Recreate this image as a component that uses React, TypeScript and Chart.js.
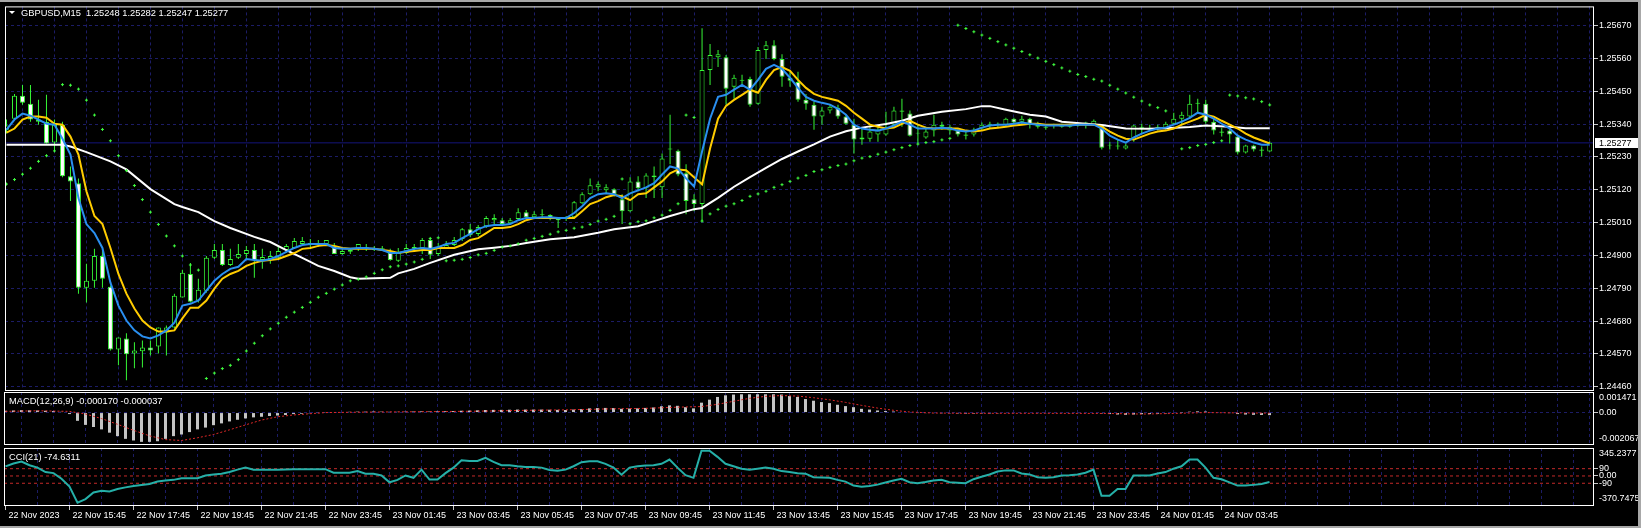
import React, { useEffect, useRef } from 'react';
import { Chart, registerables } from 'chart.js';

Chart.register(...registerables);

// ---------------- data ----------------
const symbolTitle = 'GBPUSD,M15';
const macdTitle = 'MACD(12,26,9)';
const cciTitle = 'CCI(21)';

const open = [1.25321, 1.25358, 1.25435, 1.25408, 1.25355, 1.25348, 1.25278, 1.25338, 1.25165, 1.25142,
  1.24792, 1.24815, 1.24898, 1.24795, 1.24585, 1.24622, 1.24572, 1.24579, 1.24592, 1.24595,
  1.24642, 1.24659, 1.24759, 1.24838, 1.24749, 1.24782, 1.24892, 1.24918, 1.24868, 1.24892,
  1.24905, 1.24918, 1.24885, 1.24888, 1.24892, 1.24918, 1.24925, 1.24938, 1.24942, 1.24938,
  1.24938, 1.24932, 1.24905, 1.24912, 1.24922, 1.24928, 1.24922, 1.24922, 1.24908, 1.24882,
  1.24908, 1.24922, 1.24925, 1.24952, 1.24905, 1.24925, 1.24935, 1.24955, 1.24988, 1.24972,
  1.24998, 1.25018, 1.25018, 1.25008, 1.25022, 1.25045, 1.25028, 1.25035, 1.25035, 1.25025,
  1.25025, 1.25028, 1.25075, 1.25105, 1.25128, 1.25118, 1.25122, 1.25088, 1.25048, 1.25148,
  1.25125, 1.25162, 1.25128, 1.25255, 1.25251, 1.25175, 1.25088, 1.25072, 1.25521, 1.25564,
  1.25564, 1.25465, 1.25488, 1.25491, 1.25408, 1.25588, 1.25604, 1.25558, 1.25495, 1.25481,
  1.25421, 1.25405, 1.25365, 1.25385, 1.25395, 1.25365, 1.25338, 1.25295, 1.25291, 1.25305,
  1.25305, 1.25338, 1.25385, 1.25375, 1.25308, 1.25295, 1.25318, 1.25338, 1.25318, 1.25318,
  1.25305, 1.25305, 1.25325, 1.25338, 1.25338, 1.25338, 1.25358, 1.25348, 1.25358, 1.25338,
  1.25331, 1.25335, 1.25338, 1.25331, 1.25335, 1.25341, 1.25338, 1.25335, 1.25268, 1.25268,
  1.25258, 1.25288, 1.25331, 1.25328, 1.25328, 1.25328, 1.25341, 1.25358, 1.25365, 1.25408,
  1.25408, 1.25348, 1.25315, 1.25318, 1.25298, 1.25245, 1.25268, 1.25255, 1.25248];

const high = [1.25355, 1.25441, 1.25471, 1.25471, 1.25421, 1.25438, 1.25355, 1.25348, 1.25198, 1.25158,
  1.24872, 1.24922, 1.24922, 1.24799, 1.24625, 1.24639, 1.24609, 1.24615, 1.24615, 1.24659,
  1.24665, 1.24772, 1.24852, 1.24875, 1.24822, 1.24898, 1.24938, 1.24938, 1.24922, 1.24938,
  1.24932, 1.24938, 1.24922, 1.24915, 1.24932, 1.24938, 1.24958, 1.24962, 1.24955, 1.24952,
  1.24952, 1.24942, 1.24922, 1.24925, 1.24938, 1.24938, 1.24932, 1.24932, 1.24922, 1.24925,
  1.24938, 1.24938, 1.24958, 1.24958, 1.24942, 1.24948, 1.24962, 1.24992, 1.25005, 1.25002,
  1.25032, 1.25038, 1.25025, 1.25025, 1.25058, 1.25052, 1.25048, 1.25055, 1.25038, 1.25028,
  1.25032, 1.25082, 1.25112, 1.25158, 1.25148, 1.25138, 1.25125, 1.25105, 1.25162, 1.25165,
  1.25175, 1.25198, 1.25241, 1.25371, 1.25255, 1.25205, 1.25105, 1.25661, 1.25608, 1.25588,
  1.25571, 1.25505, 1.25505, 1.25498, 1.25598, 1.25618, 1.25621, 1.25574, 1.25515, 1.25515,
  1.25441, 1.25415, 1.25398, 1.25405, 1.25405, 1.25371, 1.25358, 1.25325, 1.25331, 1.25338,
  1.25381, 1.25398, 1.25425, 1.25385, 1.25338, 1.25331, 1.25371, 1.25348, 1.25338, 1.25325,
  1.25315, 1.25328, 1.25345, 1.25348, 1.25345, 1.25361, 1.25361, 1.25368, 1.25361, 1.25348,
  1.25338, 1.25341, 1.25341, 1.25341, 1.25345, 1.25348, 1.25355, 1.25338, 1.25281, 1.25288,
  1.25275, 1.25338, 1.25341, 1.25338, 1.25338, 1.25348, 1.25378, 1.25381, 1.25438, 1.25425,
  1.25421, 1.25358, 1.25328, 1.25325, 1.25305, 1.25271, 1.25271, 1.25265, 1.25282];

const low = [1.25308, 1.25355, 1.25405, 1.25348, 1.25338, 1.25275, 1.25248, 1.25162, 1.25082, 1.24772,
  1.24742, 1.24792, 1.24792, 1.24582, 1.24532, 1.24482, 1.24522, 1.24525, 1.24565, 1.24572,
  1.24565, 1.24655, 1.24759, 1.24742, 1.24742, 1.24775, 1.24888, 1.24865, 1.24865, 1.24888,
  1.24888, 1.24825, 1.24855, 1.24872, 1.24888, 1.24908, 1.24922, 1.24938, 1.24928, 1.24928,
  1.24935, 1.24905, 1.24902, 1.24905, 1.24915, 1.24915, 1.24915, 1.24915, 1.24882, 1.24878,
  1.24905, 1.24915, 1.24905, 1.24888, 1.24898, 1.24922, 1.24932, 1.24948, 1.24962, 1.24965,
  1.24992, 1.25005, 1.24998, 1.25005, 1.25015, 1.25025, 1.25025, 1.25025, 1.25018, 1.24992,
  1.25015, 1.25025, 1.25072, 1.25102, 1.25115, 1.25108, 1.25098, 1.25005, 1.25045, 1.25115,
  1.25092, 1.25092, 1.25092, 1.25205, 1.25165, 1.25038, 1.25048, 1.25015, 1.25471, 1.25531,
  1.25405, 1.25425, 1.25471, 1.25398, 1.25405, 1.25558, 1.25554, 1.25465, 1.25465, 1.25415,
  1.25388, 1.25321, 1.25338, 1.25375, 1.25358, 1.25338, 1.25241, 1.25271, 1.25281, 1.25281,
  1.25301, 1.25331, 1.25331, 1.25298, 1.25275, 1.25291, 1.25298, 1.25321, 1.25305, 1.25298,
  1.25288, 1.25298, 1.25318, 1.25325, 1.25328, 1.25331, 1.25338, 1.25338, 1.25325, 1.25325,
  1.25321, 1.25325, 1.25328, 1.25328, 1.25331, 1.25325, 1.25335, 1.25255, 1.25255, 1.25255,
  1.25255, 1.25281, 1.25308, 1.25318, 1.25318, 1.25321, 1.25338, 1.25338, 1.25358, 1.25375,
  1.25341, 1.25305, 1.25298, 1.25275, 1.25238, 1.25241, 1.25248, 1.25231, 1.25247];

const close = [1.25335, 1.25435, 1.25411, 1.25355, 1.25348, 1.25275, 1.25338, 1.25165, 1.25148, 1.24792,
  1.24815, 1.24898, 1.24822, 1.24585, 1.24625, 1.24569, 1.24582, 1.24592, 1.24582, 1.24659,
  1.24659, 1.24765, 1.24842, 1.24745, 1.24785, 1.24892, 1.24918, 1.24868, 1.24888, 1.24905,
  1.24918, 1.24885, 1.24895, 1.24898, 1.24915, 1.24932, 1.24948, 1.24948, 1.24938, 1.24942,
  1.24952, 1.24905, 1.24915, 1.24918, 1.24938, 1.24922, 1.24918, 1.24925, 1.24885, 1.24908,
  1.24925, 1.24928, 1.24952, 1.24902, 1.24928, 1.24935, 1.24952, 1.24988, 1.24968, 1.24995,
  1.25025, 1.25025, 1.25005, 1.25018, 1.25045, 1.25028, 1.25038, 1.25038, 1.25025, 1.25018,
  1.25022, 1.25078, 1.25105, 1.25135, 1.25138, 1.25128, 1.25105, 1.25048, 1.25148, 1.25125,
  1.25168, 1.25168, 1.25225, 1.25258, 1.25171, 1.25082, 1.25072, 1.25521, 1.25571, 1.25574,
  1.25458, 1.25495, 1.25485, 1.25405, 1.25588, 1.25604, 1.25558, 1.25498, 1.25485, 1.25421,
  1.25408, 1.25365, 1.25385, 1.25398, 1.25365, 1.25341, 1.25288, 1.25288, 1.25315, 1.25321,
  1.25328, 1.25385, 1.25381, 1.25301, 1.25311, 1.25315, 1.25338, 1.25331, 1.25331, 1.25305,
  1.25301, 1.25321, 1.25338, 1.25341, 1.25341, 1.25358, 1.25345, 1.25358, 1.25338, 1.25331,
  1.25328, 1.25338, 1.25331, 1.25335, 1.25338, 1.25345, 1.25351, 1.25261, 1.25271, 1.25265,
  1.25268, 1.25335, 1.25328, 1.25325, 1.25331, 1.25341, 1.25358, 1.25371, 1.25408, 1.25411,
  1.25348, 1.25318, 1.25311, 1.25305, 1.25245, 1.25268, 1.25255, 1.25251, 1.25277];

const maFast = [1.25321, 1.25355, 1.25375, 1.25368, 1.25355, 1.25341, 1.25338, 1.25291, 1.25238, 1.25092,
  1.25005, 1.24975, 1.24925, 1.24809, 1.24732, 1.24682, 1.24649, 1.24629, 1.24622, 1.24632,
  1.24649, 1.24675, 1.24732, 1.24738, 1.24749, 1.24782, 1.24815, 1.24838, 1.24855, 1.24862,
  1.24888, 1.24885, 1.24882, 1.24888, 1.24898, 1.24912, 1.24925, 1.24935, 1.24938, 1.24938,
  1.24938, 1.24925, 1.24922, 1.24922, 1.24925, 1.24925, 1.24922, 1.24918, 1.24908, 1.24908,
  1.24915, 1.24922, 1.24925, 1.24922, 1.24928, 1.24938, 1.24942, 1.24958, 1.24972, 1.24988,
  1.24998, 1.25002, 1.25002, 1.25005, 1.25018, 1.25025, 1.25025, 1.25028, 1.25028, 1.25025,
  1.25025, 1.25042, 1.25065, 1.25092, 1.25105, 1.25108, 1.25105, 1.25092, 1.25108, 1.25118,
  1.25128, 1.25142, 1.25171, 1.25198, 1.25191, 1.25158, 1.25131, 1.25248, 1.25358, 1.25431,
  1.25438, 1.25455, 1.25471, 1.25455, 1.25488, 1.25525, 1.25538, 1.25525, 1.25495, 1.25461,
  1.25431, 1.25418, 1.25411, 1.25405, 1.25391, 1.25371, 1.25338, 1.25325, 1.25321, 1.25318,
  1.25325, 1.25335, 1.25348, 1.25338, 1.25325, 1.25325, 1.25325, 1.25328, 1.25325, 1.25318,
  1.25315, 1.25318, 1.25328, 1.25335, 1.25338, 1.25338, 1.25341, 1.25345, 1.25341, 1.25338,
  1.25335, 1.25335, 1.25335, 1.25335, 1.25338, 1.25338, 1.25338, 1.25325, 1.25301, 1.25288,
  1.25278, 1.25295, 1.25308, 1.25318, 1.25325, 1.25328, 1.25338, 1.25348, 1.25361, 1.25378,
  1.25371, 1.25358, 1.25341, 1.25325, 1.25301, 1.25288, 1.25278, 1.25271, 1.25271];

const maMid = [1.25311, 1.25325, 1.25355, 1.25365, 1.25365, 1.25361, 1.25341, 1.25338, 1.25298, 1.25238,
  1.25115, 1.25032, 1.25005, 1.24925, 1.24838, 1.24772, 1.24722, 1.24682, 1.24659, 1.24645,
  1.24645, 1.24649, 1.24689, 1.24725, 1.24725, 1.24749, 1.24789, 1.24822, 1.24838, 1.24848,
  1.24865, 1.24875, 1.24882, 1.24885, 1.24888, 1.24898, 1.24908, 1.24922, 1.24925, 1.24932,
  1.24935, 1.24932, 1.24925, 1.24922, 1.24922, 1.24922, 1.24922, 1.24918, 1.24915, 1.24908,
  1.24912, 1.24915, 1.24918, 1.24918, 1.24925, 1.24925, 1.24925, 1.24935, 1.24952, 1.24958,
  1.24975, 1.24992, 1.24992, 1.24995, 1.25005, 1.25018, 1.25025, 1.25025, 1.25025, 1.25025,
  1.25025, 1.25025, 1.25048, 1.25072, 1.25082, 1.25095, 1.25102, 1.25098, 1.25085, 1.25105,
  1.25108, 1.25128, 1.25148, 1.25175, 1.25188, 1.25185, 1.25162, 1.25138, 1.25258, 1.25358,
  1.25401, 1.25421, 1.25438, 1.25455, 1.25445, 1.25488, 1.25521, 1.25531, 1.25518, 1.25488,
  1.25461, 1.25441, 1.25431, 1.25425, 1.25418, 1.25401, 1.25378, 1.25358, 1.25338, 1.25331,
  1.25325, 1.25328, 1.25341, 1.25351, 1.25338, 1.25328, 1.25325, 1.25325, 1.25325, 1.25325,
  1.25318, 1.25315, 1.25318, 1.25325, 1.25328, 1.25331, 1.25335, 1.25338, 1.25341, 1.25341,
  1.25338, 1.25338, 1.25338, 1.25338, 1.25338, 1.25338, 1.25338, 1.25331, 1.25315, 1.25301,
  1.25291, 1.25288, 1.25298, 1.25308, 1.25315, 1.25318, 1.25325, 1.25338, 1.25348, 1.25358,
  1.25371, 1.25365, 1.25351, 1.25338, 1.25325, 1.25308, 1.25295, 1.25285, 1.25275];

const maSlowBars = [0, 7, 8, 10, 13, 15, 18, 21, 22, 24, 26, 28, 31, 33, 35, 37, 39, 41, 43, 44,
  48, 49, 51, 53, 56, 59, 61, 63, 65, 68, 71, 74, 76, 79, 81, 83, 86, 87, 89, 91,
  93, 95, 97, 99, 101, 103, 105, 107, 110, 112, 114, 117, 120, 122, 123, 125, 128, 130, 132, 135,
  137, 140, 143, 145, 148, 150, 153, 155, 158];
const maSlow = [1.25271, 1.25271, 1.25265, 1.25246, 1.25215, 1.25188, 1.25122, 1.25072, 1.25062, 1.25045,
  1.25015, 1.24992, 1.24962, 1.24945, 1.24918, 1.24892, 1.24865, 1.24848, 1.24827, 1.24822,
  1.24825, 1.24840, 1.24855, 1.24875, 1.24902, 1.24921, 1.24926, 1.24932, 1.24942, 1.24954,
  1.24961, 1.24976, 1.24988, 1.24998, 1.25015, 1.25032, 1.25055, 1.25059, 1.25093, 1.25130,
  1.25162, 1.25193, 1.25223, 1.25248, 1.25272, 1.25298, 1.25316, 1.25328, 1.25340, 1.25351,
  1.25368, 1.25381, 1.25390, 1.25400, 1.25400, 1.25388, 1.25371, 1.25365, 1.25348, 1.25341,
  1.25337, 1.25325, 1.25324, 1.25326, 1.25330, 1.25335, 1.25331, 1.25326, 1.25326];

const sar = [1.25139, 1.25154, 1.25172, 1.25192, 1.25215, 1.25234, 1.25250, 1.25472, 1.25470, 1.25457,
  1.25420, 1.25370, 1.25322, 1.25284, 1.25234, 1.25184, 1.25134, 1.25087, 1.25045, 1.25004,
  1.24965, 1.24932, 1.24898, 1.24868, 1.24851, 1.24488, 1.24506, 1.24521, 1.24532, 1.24551,
  1.24580, 1.24606, 1.24631, 1.24654, 1.24673, 1.24693, 1.24710, 1.24726, 1.24743, 1.24760,
  1.24773, 1.24787, 1.24801, 1.24815, 1.24820, 1.24828, 1.24840, 1.24852, 1.24862, 1.24865,
  1.24871, 1.24878, 1.24887, 1.24957, 1.24959, 1.24882, 1.24884, 1.24887, 1.24893, 1.24902,
  1.24907, 1.24917, 1.24928, 1.24932, 1.24939, 1.24951, 1.24957, 1.24964, 1.24971, 1.24979,
  1.24984, 1.24991, 1.24995, 1.25004, 1.25015, 1.25021, 1.25031, 1.25156, 1.25006, 1.25013,
  1.25016, 1.25026, 1.25035, 1.25051, 1.25073, 1.25370, 1.25362, 1.25015, 1.25039, 1.25054,
  1.25065, 1.25073, 1.25084, 1.25098, 1.25106, 1.25115, 1.25128, 1.25137, 1.25148, 1.25159,
  1.25168, 1.25181, 1.25187, 1.25195, 1.25201, 1.25206, 1.25217, 1.25226, 1.25231, 1.25239,
  1.25246, 1.25254, 1.25261, 1.25268, 1.25273, 1.25278, 1.25281, 1.25287, 1.25292, 1.25671,
  1.25660, 1.25649, 1.25638, 1.25627, 1.25616, 1.25605, 1.25594, 1.25583, 1.25572, 1.25561,
  1.25550, 1.25539, 1.25528, 1.25517, 1.25506, 1.25499, 1.25490, 1.25484, 1.25470, 1.25457,
  1.25444, 1.25430, 1.25417, 1.25404, 1.25395, 1.25384, null, 1.25257, 1.25261, 1.25268,
  1.25272, 1.25278, 1.25284, 1.25437, 1.25434, 1.25428, 1.25424, 1.25415, 1.25404];

const macdHist = [0.00012, 0.00014, 0.00016, 0.00015, 0.00014, 0.00012, 0.0001, 0.00005, -0.0001, -0.00055,
  -0.00082, -0.00096, -0.00112, -0.00134, -0.00157, -0.00175, -0.00186, -0.00195, -0.00195, -0.00191,
  -0.00175, -0.00157, -0.00146, -0.0013, -0.00112, -0.001, -0.00084, -0.00072, -0.00059, -0.00048,
  -0.00039, -0.00032, -0.00028, -0.00023, -0.0002, -0.00016, -0.0001, -0.00008, -0.00005, -0.00002,
  0.00002, 0.00003, 0.00004, 0.00005, 0.00006, 0.00006, 0.00007, 0.00006, 0.00005, 0.00005,
  0.00006, 0.00007, 0.00008, 0.00007, 0.00008, 0.00009, 0.0001, 0.00012, 0.00013, 0.00015,
  0.00017, 0.00018, 0.00018, 0.00019, 0.0002, 0.0002, 0.0002, 0.0002, 0.00019, 0.00018,
  0.00017, 0.0002, 0.00023, 0.00028, 0.0003, 0.00031, 0.0003, 0.00025, 0.00027, 0.00028,
  0.00031, 0.00034, 0.00042, 0.00048, 0.00045, 0.00036, 0.00028, 0.00066, 0.00086, 0.00104,
  0.00115, 0.0012, 0.00122, 0.00122, 0.00122, 0.00122, 0.00122, 0.0012, 0.0011, 0.00104,
  0.0009, 0.00079, 0.0007, 0.00063, 0.00052, 0.00043, 0.00036, 0.00025, 0.0002, 0.00014,
  0.0001, 0.00007, 0.00003, 0, -0.00002, -0.00004, -0.00004, -0.00005, -0.00005, -0.00006,
  -0.00007, -0.00007, -0.00006, -0.00006, -0.00005, -0.00004, -0.00004, -0.00003, -0.00003, -0.00004,
  -0.00004, -0.00004, -0.00004, -0.00004, -0.00004, -0.00003, -0.00003, -0.00006, -0.0001, -0.00013,
  -0.00015, -0.00013, -0.00011, -0.0001, -0.00008, -0.00006, -0.00003, 0.00001, 0.00006, 0.00008,
  0.00007, 0.00004, 0, -0.00004, -0.0001, -0.00013, -0.00015, -0.00016, -0.00017];

const macdSignalBars = [0, 4, 8, 10, 12, 14, 16, 18, 20, 22, 24, 26, 28, 30, 32, 34, 36, 38, 40, 45,
  50, 55, 60, 65, 70, 75, 80, 84, 87, 89, 91, 93, 95, 97, 99, 101, 103, 105, 107, 109,
  111, 113, 116, 120, 130, 138, 142, 146, 150, 154, 158];
const macdSignal = [0.00008, 0.00012, 0.00008, -0.0001, -0.0004, -0.00078, -0.00118, -0.00155, -0.0018, -0.00186,
  -0.00168, -0.00146, -0.00115, -0.00082, -0.0005, -0.00028, -0.00016, -0.00008, 0, 0.00003,
  0.00005, 0.00007, 0.0001, 0.00015, 0.00018, 0.00024, 0.00028, 0.00036, 0.0004, 0.00055,
  0.00075, 0.00095, 0.00108, 0.00113, 0.0011, 0.00099, 0.00085, 0.00068, 0.00048, 0.0003,
  0.00015, 0.00004, -0.00003, -0.00005, -0.00005, -0.00006, -0.0001, -0.00006, 0, -0.00002,
  -0.000037];

const cci = [119, 153, 178, 132, 103, 48, 35, -35, -132, -329,
  -286, -203, -182, -191, -161, -141, -123, -111, -98, -69,
  -57, -48, -28, -28, -28, 6, 19, 28, 48, 78,
  103, 78, 78, 78, 78, 80, 84, 84, 84, 84,
  84, 40, 40, 40, 60, 28, 28, 6, -78, -48,
  6, -23, 78, -44, -44, 35, 103, 195, 186, 186,
  224, 173, 132, 132, 119, 111, 111, 103, 73, 65,
  78, 120, 170, 182, 182, 150, 103, 15, 103, 119,
  130, 132, 150, 203, 103, 10, -23, 311, 311, 236,
  150, 119, 90, 78, 90, 103, 90, 60, 48, 35,
  28, -15, -20, -23, -48, -70, -119, -132, -125, -107,
  -80, -55, -35, -78, -90, -75, -55, -48, -78, -85,
  -90, -40, -10, 19, 55, 69, 69, 30, 19, -15,
  -23, -15, 6, 10, 19, 40, 78, -245, -245, -161,
  -161, 6, 6, 6, 30, 48, 90, 120, 203, 203,
  103, -23, -40, -80, -119, -119, -110, -100, -74.6311];

const cciLevels = [90, 0, -90];

const priceTicks = [1.2446, 1.2457, 1.2468, 1.2479, 1.249, 1.2501, 1.2512, 1.2523, 1.2534, 1.2545, 1.2556, 1.2567];
const macdAxisTicks = [0.00102, 0, -0.00176];
const macdAxisLabels = ['0.001471', '0.00', '-0.002067'];
const cciAxisTicks = [280, 90, 0, -90, -275];
const cciAxisLabels = ['345.2377', '90', '0.00', '-90', '-370.7475'];

const timeLabelBars = [0, 8, 16, 24, 32, 40, 48, 56, 64, 72, 80, 88, 96, 104, 112, 120, 128, 136, 144, 152];
const timeLabels = ['22 Nov 2023', '22 Nov 15:45', '22 Nov 17:45', '22 Nov 19:45', '22 Nov 21:45',
  '22 Nov 23:45', '23 Nov 01:45', '23 Nov 03:45', '23 Nov 05:45', '23 Nov 07:45', '23 Nov 09:45',
  '23 Nov 11:45', '23 Nov 13:45', '23 Nov 15:45', '23 Nov 17:45', '23 Nov 19:45', '23 Nov 21:45',
  '23 Nov 23:45', '24 Nov 01:45', '24 Nov 03:45'];

// ---------------- layout & style ----------------
const W = 1641;
const H = 528;
const X_MIN = -0.1875;
const X_MAX = 198.5625;
const GRID_STEP = 4;
const PRICE_MIN = 1.24446;
const PRICE_MAX = 1.25734;
const MACD_MIN = -0.00216;
const MACD_MAX = 0.00137;
const CCI_MIN = -370.7475;
const CCI_MAX = 345.2377;

const FONT = '"Liberation Sans", Arial, sans-serif';
const FONT_SIZE = 9;
const TITLE_SIZE = 9.3;
const TEXT = '#ffffff';
const GRID = '#1c1c66';
const PRICE_LINE = '#14147a';
const CANDLE = '#36f536';
const SAR_COLOR = '#40ff40';
const CLEAR = 'rgba(0,0,0,0)';

const gridBars: number[] = [];
for (let k = 0; k <= X_MAX; k += GRID_STEP) gridBars.push(k);
const labelMap = new Map<number, string>();
timeLabelBars.forEach((b, i) => labelMap.set(b, timeLabels[i]));

function xAxis(showLabels: boolean): any {
  return {
    type: 'linear',
    min: X_MIN,
    max: X_MAX,
    offset: false,
    afterBuildTicks: (s: any) => { s.ticks = gridBars.map((v) => ({ value: v })); },
    afterFit: (s: any) => { s.height = showLabels ? H - 506 : 0; },
    grid: {
      color: (c: any) => (c.tick && c.tick.value === 0 ? CLEAR : GRID),
      lineWidth: 1,
      drawTicks: showLabels,
      tickLength: 4,
      tickBorderDash: [],
      tickColor: (c: any) => (c.tick && labelMap.has(c.tick.value) ? '#c8c8c8' : CLEAR),
    },
    border: { display: false, dash: [3, 3] },
    ticks: {
      display: showLabels,
      autoSkip: false,
      maxRotation: 0,
      minRotation: 0,
      align: 'start',
      labelOffset: 3,
      padding: 0,
      color: TEXT,
      font: { family: FONT, size: FONT_SIZE },
      callback: (v: number) => labelMap.get(v) ?? '',
    },
  };
}

function yAxis(min: number, max: number, ticks: number[], label: (v: number, i: number) => string,
  gridColor: (v: number) => string, tickColor: (v: number) => string): any {
  return {
    type: 'linear',
    position: 'right',
    min,
    max,
    afterBuildTicks: (s: any) => { s.ticks = ticks.map((v) => ({ value: v })); },
    afterFit: (s: any) => { s.width = W - 1594; },
    grid: {
      color: (c: any) => (c.tick ? gridColor(c.tick.value) : CLEAR),
      lineWidth: 1,
      drawTicks: true,
      tickLength: 4,
      tickBorderDash: [],
      tickColor: (c: any) => (c.tick ? tickColor(c.tick.value) : CLEAR),
    },
    border: { display: false, dash: [3, 3] },
    ticks: {
      autoSkip: false,
      padding: 1,
      color: TEXT,
      font: { family: FONT, size: FONT_SIZE },
      callback: (v: number, i: number) => label(v, i),
    },
  };
}

const framePlugin = {
  id: 'paneFrame',
  afterDraw(chart: any) {
    const { ctx, chartArea: a } = chart;
    ctx.save();
    ctx.strokeStyle = '#ffffff';
    ctx.lineWidth = 1;
    ctx.strokeRect(a.left + 0.5, a.top + 0.5, a.right - a.left - 1, a.bottom - a.top - 1);
    ctx.restore();
  },
};

function textPlugin(id: string, draw: (chart: any) => void) {
  return { id, afterDraw: draw };
}

function putText(ctx: CanvasRenderingContext2D, s: string, x: number, y: number, color = TEXT, size = TITLE_SIZE) {
  ctx.save();
  ctx.font = `${size}px ${FONT}`;
  ctx.fillStyle = color;
  ctx.textBaseline = 'middle';
  ctx.textAlign = 'left';
  ctx.fillText(s, x, y);
  ctx.restore();
}

const baseOptions = (padding: any) => ({
  responsive: false,
  animation: false as const,
  events: [] as any[],
  layout: { padding },
  plugins: { legend: { display: false }, tooltip: { enabled: false }, title: { display: false } },
});

export default function App() {
  const mainRef = useRef<HTMLCanvasElement>(null);
  const macdRef = useRef<HTMLCanvasElement>(null);
  const cciRef = useRef<HTMLCanvasElement>(null);

  useEffect(() => {
    const n = open.length;
    const last = n - 1;
    const idx = Array.from({ length: n }, (_, i) => i);

    // ---------- main pane ----------
    const mainChart = new Chart(mainRef.current as HTMLCanvasElement, {
      type: 'bar',
      data: {
        datasets: [
          {
            type: 'line',
            data: [{ x: X_MIN, y: close[last] }, { x: X_MAX, y: close[last] }],
            borderColor: PRICE_LINE,
            borderWidth: 1,
            pointRadius: 0,
            order: 10,
          } as any,
          {
            type: 'bar',
            data: idx.map((i) => ({ x: i, y: [low[i], high[i]] })),
            backgroundColor: CANDLE,
            borderWidth: 0,
            barThickness: 1,
            grouped: false,
            inflateAmount: 0,
            order: 9,
          } as any,
          {
            type: 'bar',
            data: idx.map((i) => ({ x: i, y: [open[i], close[i]] })),
            backgroundColor: idx.map((i) => (close[i] >= open[i] ? '#000000' : '#ffffff')),
            borderColor: CANDLE,
            borderWidth: 1,
            borderSkipped: false,
            barThickness: 5,
            grouped: false,
            inflateAmount: 0,
            order: 8,
          } as any,
          {
            type: 'line',
            data: maSlowBars.map((b, i) => ({ x: b, y: maSlow[i] })),
            borderColor: '#ffffff',
            borderWidth: 2,
            pointRadius: 0,
            tension: 0,
            order: 5,
          } as any,
          {
            type: 'line',
            data: idx.map((i) => ({ x: i, y: maMid[i] })),
            borderColor: '#ffcc00',
            borderWidth: 2,
            pointRadius: 0,
            tension: 0,
            order: 4,
          } as any,
          {
            type: 'line',
            data: idx.map((i) => ({ x: i, y: maFast[i] })),
            borderColor: '#2a8ff0',
            borderWidth: 2,
            pointRadius: 0,
            tension: 0,
            order: 3,
          } as any,
          {
            type: 'line',
            data: idx.map((i) => ({ x: i, y: sar[i] })),
            showLine: false,
            pointStyle: 'cross',
            pointRadius: 1.5,
            pointBorderWidth: 1,
            pointBorderColor: SAR_COLOR,
            pointBackgroundColor: SAR_COLOR,
            order: 1,
          } as any,
        ],
      },
      options: {
        ...baseOptions({ left: 4, top: 4, right: 0, bottom: H - 391 }),
        scales: {
          x: xAxis(false),
          y: yAxis(PRICE_MIN, PRICE_MAX, priceTicks, (v) => Number(v).toFixed(5), () => GRID, () => '#c8c8c8'),
        },
      } as any,
      plugins: [
        framePlugin,
        textPlugin('mainText', (chart: any) => {
          const ctx = chart.ctx as CanvasRenderingContext2D;
          ctx.save();
          ctx.fillStyle = TEXT;
          ctx.beginPath();
          ctx.moveTo(9, 11);
          ctx.lineTo(15, 11);
          ctx.lineTo(12, 14);
          ctx.closePath();
          ctx.fill();
          ctx.restore();
          const t = `${symbolTitle}  ${open[last].toFixed(5)} ${high[last].toFixed(5)} ${low[last].toFixed(5)} ${close[last].toFixed(5)}`;
          putText(ctx, t, 21, 13);
          const y = chart.scales.y.getPixelForValue(close[last]);
          ctx.save();
          ctx.fillStyle = '#ffffff';
          ctx.fillRect(1595, Math.round(y) - 5, 43, 10);
          ctx.restore();
          putText(ctx, close[last].toFixed(5), 1599, Math.round(y) + 0.5, '#000000', FONT_SIZE);
        }),
      ],
    });

    // ---------- MACD pane ----------
    const macdChart = new Chart(macdRef.current as HTMLCanvasElement, {
      type: 'bar',
      data: {
        datasets: [
          {
            type: 'bar',
            data: idx.map((i) => ({ x: i, y: macdHist[i] })),
            backgroundColor: '#c4c4c4',
            borderWidth: 0,
            barThickness: 3,
            grouped: false,
            inflateAmount: 0,
            order: 2,
          } as any,
          {
            type: 'line',
            data: macdSignalBars.map((b, i) => ({ x: b, y: macdSignal[i] })),
            borderColor: '#e02828',
            borderWidth: 1,
            borderDash: [2, 2],
            pointRadius: 0,
            tension: 0,
            order: 1,
          } as any,
        ],
      },
      options: {
        ...baseOptions({ left: 4, top: 392, right: 0, bottom: H - 445 }),
        scales: {
          x: xAxis(false),
          y: yAxis(MACD_MIN, MACD_MAX, macdAxisTicks, (_v, i) => macdAxisLabels[i],
            (v) => (v === 0 ? GRID : CLEAR), (v) => (v === 0 ? '#c8c8c8' : CLEAR)),
        },
      } as any,
      plugins: [
        framePlugin,
        textPlugin('macdText', (chart: any) => {
          const t = `${macdTitle} ${macdHist[last].toFixed(6)} ${macdSignal[macdSignal.length - 1].toFixed(6)}`;
          putText(chart.ctx, t, 9, 401);
        }),
      ],
    });

    // ---------- CCI pane ----------
    const cciChart = new Chart(cciRef.current as HTMLCanvasElement, {
      type: 'line',
      data: {
        datasets: [
          ...cciLevels.map((lv) => ({
            type: 'line',
            data: [{ x: X_MIN, y: lv }, { x: X_MAX, y: lv }],
            borderColor: '#c42a2a',
            borderWidth: 1,
            borderDash: [3, 3],
            pointRadius: 0,
            order: 3,
          })) as any[],
          {
            type: 'line',
            data: idx.map((i) => ({ x: i, y: cci[i] })),
            borderColor: '#25b0a8',
            borderWidth: 2,
            pointRadius: 0,
            tension: 0,
            order: 1,
          } as any,
        ],
      },
      options: {
        ...baseOptions({ left: 4, top: 448, right: 0, bottom: 0 }),
        scales: {
          x: xAxis(true),
          y: yAxis(CCI_MIN, CCI_MAX, cciAxisTicks, (_v, i) => cciAxisLabels[i],
            () => CLEAR, (v) => (Math.abs(v) <= 90 ? '#c8c8c8' : CLEAR)),
        },
      } as any,
      plugins: [
        framePlugin,
        textPlugin('cciText', (chart: any) => {
          const t = `${cciTitle} ${cci[last].toFixed(4)}`;
          putText(chart.ctx, t, 9, 457);
        }),
      ],
    });

    return () => {
      mainChart.destroy();
      macdChart.destroy();
      cciChart.destroy();
    };
  }, []);

  const canvasStyle: React.CSSProperties = { position: 'absolute', left: 0, top: 0, width: W, height: H };
  return (
    <div style={{ position: 'absolute', left: 0, top: 0, width: W, height: H, background: '#000', overflow: 'hidden' }}>
      <canvas ref={mainRef} width={W} height={H} style={canvasStyle} />
      <canvas ref={macdRef} width={W} height={H} style={canvasStyle} />
      <canvas ref={cciRef} width={W} height={H} style={canvasStyle} />
      <div style={{ position: 'absolute', left: 0, top: 0, width: W, height: 2, background: '#a8a8a8' }} />
      <div style={{ position: 'absolute', right: 0, top: 0, width: 3, height: H, background: '#a8a8a8' }} />
      <div style={{ position: 'absolute', left: 0, bottom: 0, width: W, height: 2, background: '#a8a8a8' }} />
    </div>
  );
}
